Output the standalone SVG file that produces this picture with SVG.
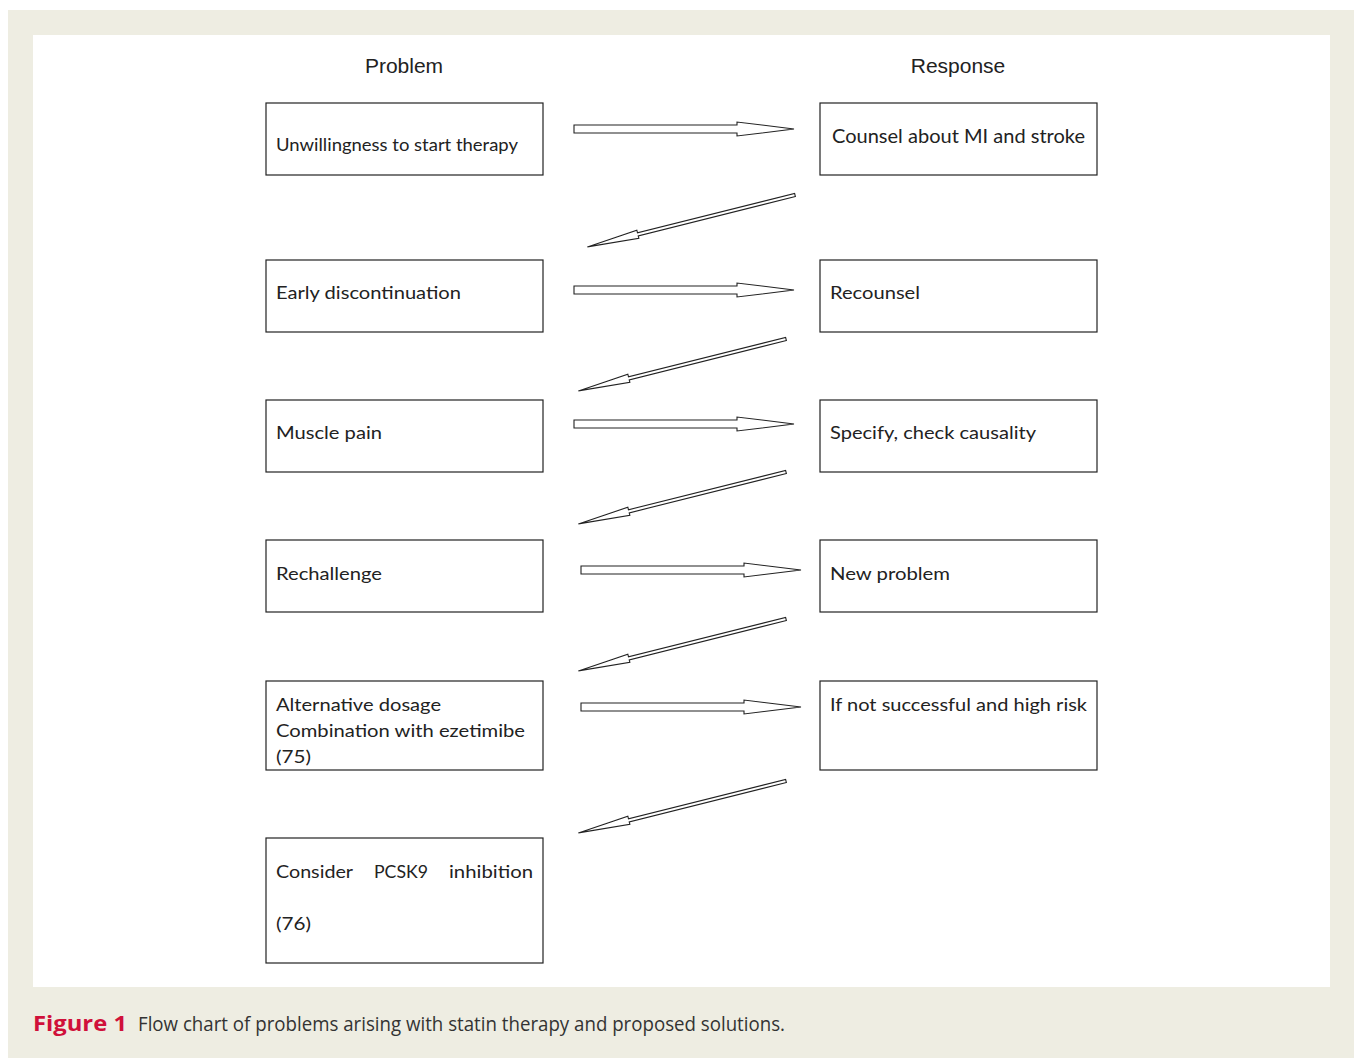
<svg xmlns="http://www.w3.org/2000/svg" width="1354" height="1058" viewBox="0 0 1354 1058">
<style>
.box{fill:#fff;stroke:#222;stroke-width:1.2}
.t{font-family:Lato,"Open Sans","Noto Sans",sans-serif;font-size:18px;fill:#222}
.h{font-family:"Liberation Sans",Arial,sans-serif;font-size:21px;fill:#222}
.arr{fill:#fff;stroke:#222;stroke-width:1.1;stroke-linejoin:miter}
.cap{font-family:"Open Sans","Noto Sans",sans-serif;font-size:20px;fill:#333}
.fig{font-family:"Open Sans","Noto Sans",sans-serif;font-size:22px;font-weight:bold;fill:#d0103a}
</style>
<defs>
<path id="ha" class="arr" d="M0,-4 H163 V-7 L220,0 L163,7 V4 H0 Z"/>
<path id="da" class="arr" d="M0,-1.6 H162 V-4.2 L214,0 L162,4.2 V1.6 H0 Z"/>
</defs>
<rect x="8" y="10" width="1346" height="1048" fill="#eeede2"/>
<rect x="33" y="35" width="1297" height="952" fill="#fff"/>
<text class="h" x="404" y="73" text-anchor="middle">Problem</text>
<text class="h" x="958" y="73" text-anchor="middle">Response</text>
<g id="p1"><rect class="box" x="266" y="103" width="277" height="72"/><text class="t" x="276" y="151" textLength="242" lengthAdjust="spacingAndGlyphs" style="font-size:17px">Unwillingness to start therapy</text></g>
<g id="r1"><rect class="box" x="820" y="103" width="277" height="72"/><text class="t" x="832" y="143" textLength="253" lengthAdjust="spacingAndGlyphs" style="font-size:19px">Counsel about MI and stroke</text></g>
<g id="p2"><rect class="box" x="266" y="260" width="277" height="72"/><text class="t" x="276" y="299" textLength="185" lengthAdjust="spacingAndGlyphs">Early discontinuation</text></g>
<g id="r2"><rect class="box" x="820" y="260" width="277" height="72"/><text class="t" x="830" y="299" textLength="90" lengthAdjust="spacingAndGlyphs">Recounsel</text></g>
<g id="p3"><rect class="box" x="266" y="400" width="277" height="72"/><text class="t" x="276" y="439" textLength="106" lengthAdjust="spacingAndGlyphs">Muscle pain</text></g>
<g id="r3"><rect class="box" x="820" y="400" width="277" height="72"/><text class="t" x="830" y="439" textLength="206" lengthAdjust="spacingAndGlyphs">Specify, check causality</text></g>
<g id="p4"><rect class="box" x="266" y="540" width="277" height="72"/><text class="t" x="276" y="580" textLength="106" lengthAdjust="spacingAndGlyphs">Rechallenge</text></g>
<g id="r4"><rect class="box" x="820" y="540" width="277" height="72"/><text class="t" x="830" y="580" textLength="120" lengthAdjust="spacingAndGlyphs">New problem</text></g>
<g id="p5"><rect class="box" x="266" y="681" width="277" height="89"/><text class="t" x="276" y="711" textLength="165" lengthAdjust="spacingAndGlyphs">Alternative dosage</text><text class="t" x="276" y="737" textLength="249" lengthAdjust="spacingAndGlyphs">Combination with ezetimibe</text><text class="t" x="276" y="763" textLength="35" lengthAdjust="spacingAndGlyphs">(75)</text></g>
<g id="r5"><rect class="box" x="820" y="681" width="277" height="89"/><text class="t" x="830" y="711" textLength="257" lengthAdjust="spacingAndGlyphs">If not successful and high risk</text></g>
<g id="p6"><rect class="box" x="266" y="838" width="277" height="125"/><text class="t" x="276" y="878" textLength="77" lengthAdjust="spacingAndGlyphs">Consider</text><text class="t" x="374" y="878" textLength="54" lengthAdjust="spacingAndGlyphs">PCSK9</text><text class="t" x="449" y="878" textLength="84" lengthAdjust="spacingAndGlyphs">inhibition</text><text class="t" x="276" y="930" textLength="35" lengthAdjust="spacingAndGlyphs">(76)</text></g>
<g id="connectors">
<use href="#ha" transform="translate(574,129)"/>
<use href="#ha" transform="translate(574,290)"/>
<use href="#ha" transform="translate(574,424)"/>
<use href="#ha" transform="translate(581,570)"/>
<use href="#ha" transform="translate(581,707)"/>
<use href="#da" transform="translate(795,195) rotate(165.96)"/>
<use href="#da" transform="translate(786,339) rotate(165.96)"/>
<use href="#da" transform="translate(786,472) rotate(165.96)"/>
<use href="#da" transform="translate(786,619) rotate(165.96)"/>
<use href="#da" transform="translate(786,781) rotate(165.96)"/>
</g>
<text class="fig" x="33" y="1031" textLength="94" lengthAdjust="spacingAndGlyphs">Figure 1</text>
<text class="cap" x="138" y="1031" textLength="647" lengthAdjust="spacingAndGlyphs">Flow chart of problems arising with statin therapy and proposed solutions.</text>
</svg>
